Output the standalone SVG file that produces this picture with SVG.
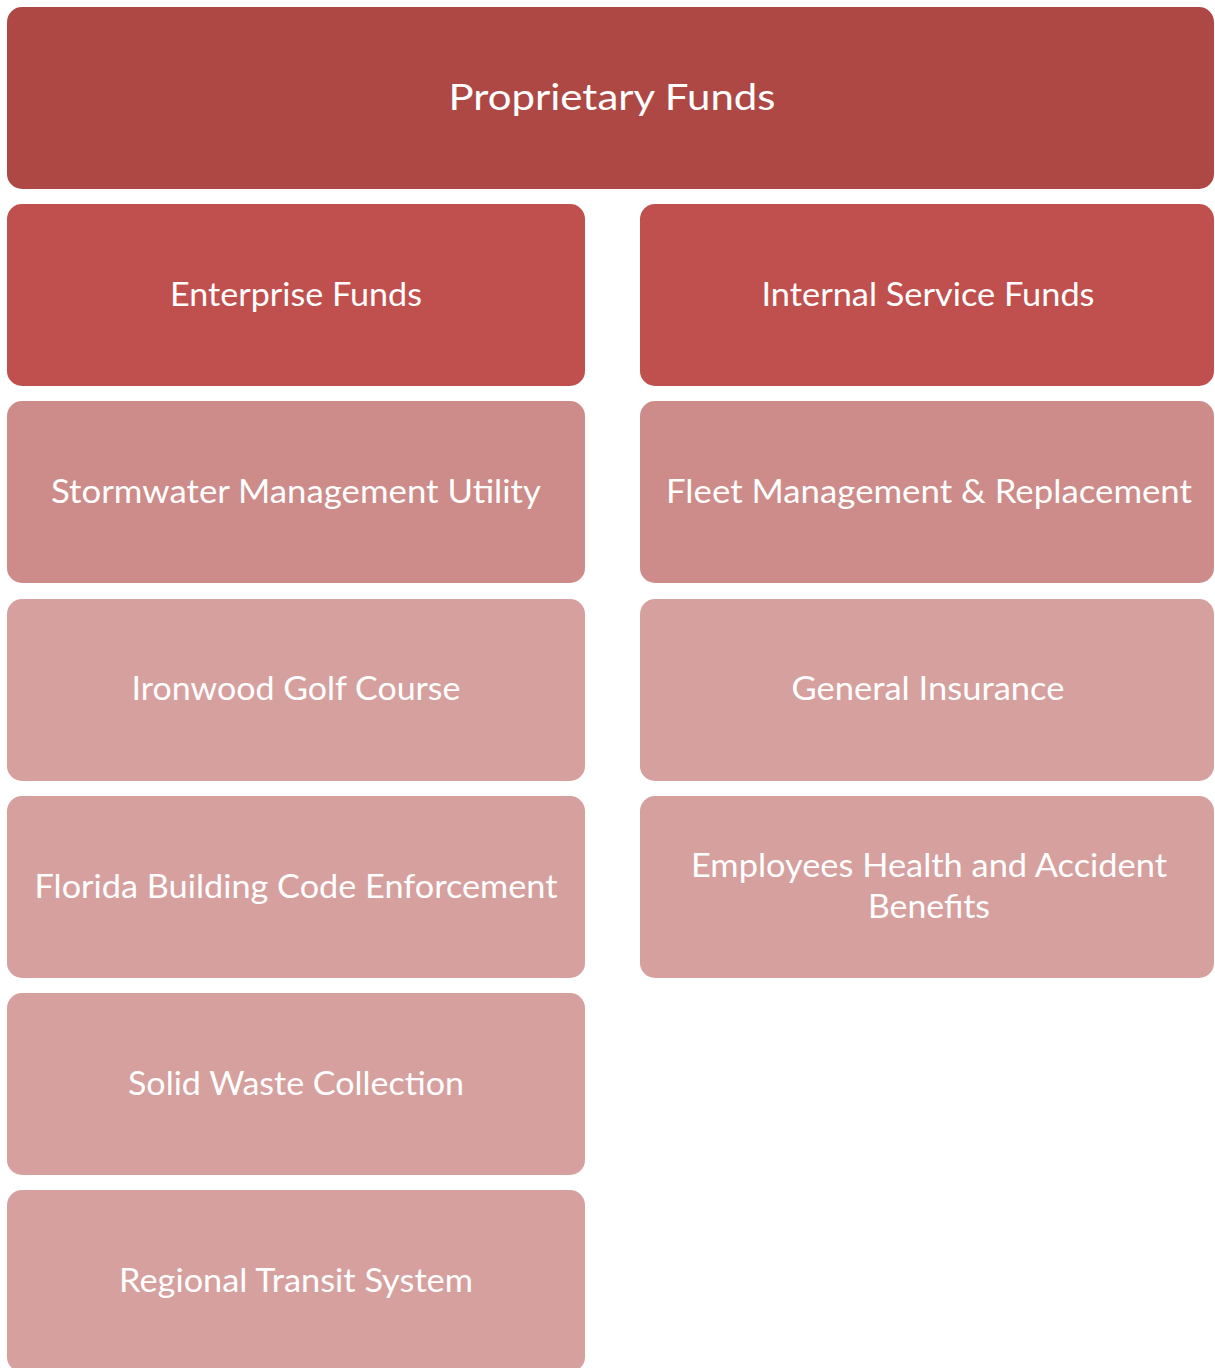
<svg xmlns="http://www.w3.org/2000/svg" width="1215" height="1368" viewBox="0 0 1215 1368">
<style>
text{font-family:Lato,"Open Sans","Liberation Sans",sans-serif;fill:#fff;text-anchor:middle}
.t{font-size:37px}
.l{font-size:33px}
.c0{fill:#AD4845}
.c1{fill:#C0504D}
.c2{fill:#CD8B89}
.c3{fill:#D6A09F}
</style>
<rect width="1215" height="1368" fill="#fff"/>
<g id="proprietary"><rect class="c0" x="7" y="7" width="1207" height="182" rx="15"/><text class="t" x="612" y="110" textLength="327" lengthAdjust="spacingAndGlyphs">Proprietary Funds</text></g>
<g id="enterprise"><rect class="c1" x="7" y="204" width="578" height="182" rx="15"/><text class="l" x="296" y="306" textLength="252" lengthAdjust="spacingAndGlyphs">Enterprise Funds</text></g>
<g id="internal"><rect class="c1" x="640" y="204" width="574" height="182" rx="15"/><text class="l" x="928" y="306" textLength="333" lengthAdjust="spacingAndGlyphs">Internal Service Funds</text></g>
<g id="stormwater"><rect class="c2" x="7" y="401" width="578" height="182" rx="15"/><text class="l" x="296" y="503" textLength="490" lengthAdjust="spacingAndGlyphs">Stormwater Management Utility</text></g>
<g id="fleet"><rect class="c2" x="640" y="401" width="574" height="182" rx="15"/><text class="l" x="929" y="503" textLength="526" lengthAdjust="spacingAndGlyphs">Fleet Management &amp; Replacement</text></g>
<g id="ironwood"><rect class="c3" x="7" y="599" width="578" height="182" rx="15"/><text class="l" x="296" y="700" textLength="329" lengthAdjust="spacingAndGlyphs">Ironwood Golf Course</text></g>
<g id="insurance"><rect class="c3" x="640" y="599" width="574" height="182" rx="15"/><text class="l" x="928" y="700" textLength="273" lengthAdjust="spacingAndGlyphs">General Insurance</text></g>
<g id="florida"><rect class="c3" x="7" y="796" width="578" height="182" rx="15"/><text class="l" x="296" y="898" textLength="523" lengthAdjust="spacingAndGlyphs">Florida Building Code Enforcement</text></g>
<g id="employees"><rect class="c3" x="640" y="796" width="574" height="182" rx="15"/><text class="l" x="929" y="877" textLength="476" lengthAdjust="spacingAndGlyphs">Employees Health and Accident</text><text class="l" x="929" y="918" textLength="122" lengthAdjust="spacingAndGlyphs">Benefits</text></g>
<g id="solidwaste"><rect class="c3" x="7" y="993" width="578" height="182" rx="15"/><text class="l" x="296" y="1095" textLength="336" lengthAdjust="spacingAndGlyphs">Solid Waste Collection</text></g>
<g id="transit"><rect class="c3" x="7" y="1190" width="578" height="182" rx="15"/><text class="l" x="296" y="1292" textLength="354" lengthAdjust="spacingAndGlyphs">Regional Transit System</text></g>
<g id="connectors"></g>
</svg>
